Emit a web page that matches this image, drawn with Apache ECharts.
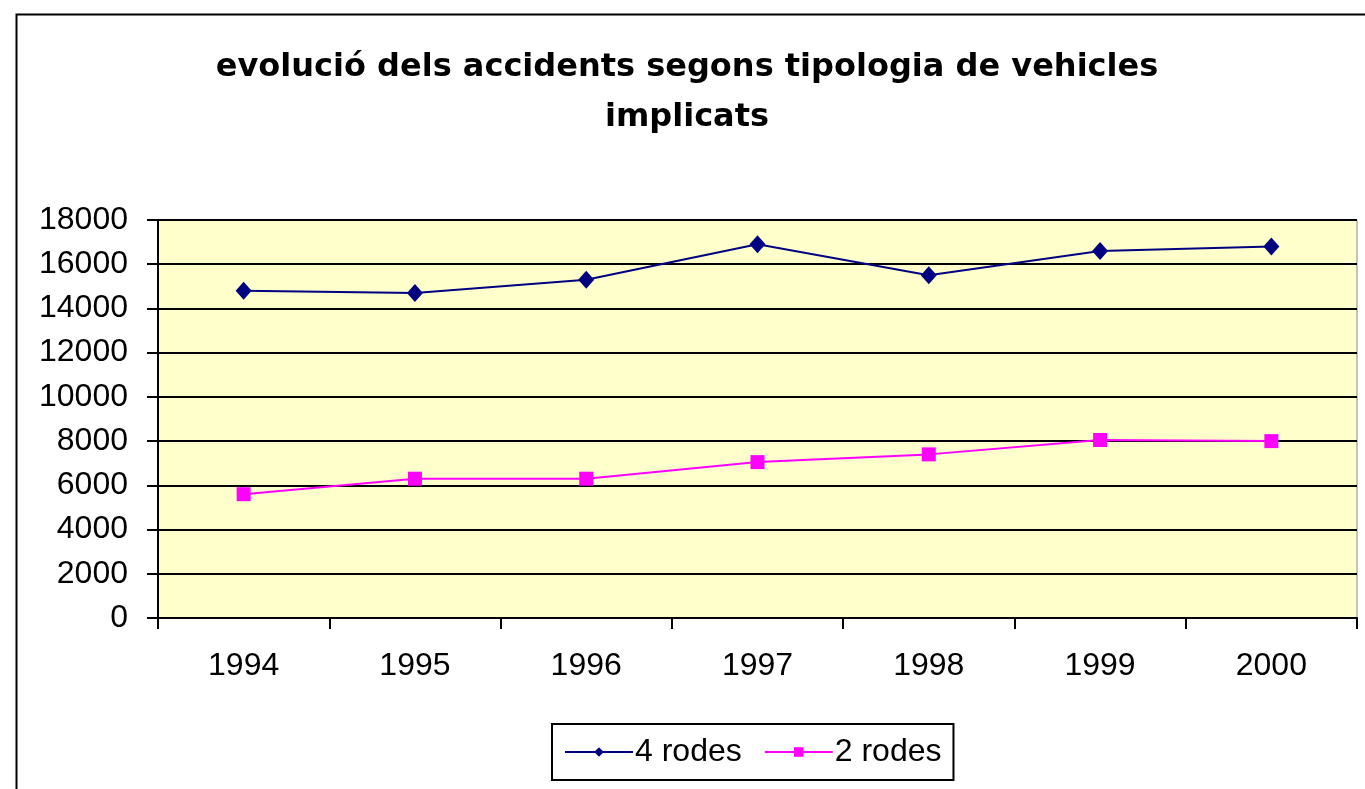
<!DOCTYPE html>
<html>
<head>
<meta charset="utf-8">
<script src="https://cdn.jsdelivr.net/npm/echarts@6/dist/echarts.min.js"></script>
<style>
  html, body { margin: 0; padding: 0; background: #fff; }
  #chart { width: 1365px; height: 789px; }
</style>
</head>
<body>
<div id="chart"></div>
<script>
const years = ['1994', '1995', '1996', '1997', '1998', '1999', '2000']
const quatreRodes = [14800, 14700, 15300, 16900, 15500, 16600, 16800]
const dosRodes = [5600, 6300, 6300, 7050, 7400, 8050, 8000]

const chart = echarts.init(document.getElementById('chart'))
chart.setOption({
  backgroundColor: '#fff',
  animation: false,
  title: {
    text: 'evolució dels accidents segons tipologia de vehicles\nimplicats',
    left: 682, top: 38,
    textAlign: 'center',
    textStyle: { fontFamily: 'DejaVu Sans', fontWeight: 'bold', fontSize: 32, lineHeight: 50, color: '#000' }
  },
  graphic: [{
    type: 'rect', left: 14, top: 12, z: -1,
    shape: { width: 1400, height: 820 },
    style: { fill: 'none', stroke: '#000', lineWidth: 2 }
  }],
  legend: {
    bottom: 9, left: 552,
    data: ['4 rodes', '2 rodes'],
    itemWidth: 68, itemHeight: 12, itemGap: 22,
    padding: [12, 12, 12, 12],
    borderColor: '#000', borderWidth: 2,
    textStyle: { fontFamily: 'Liberation Sans', fontSize: 32, color: '#000', padding: [0, 0, 0, -3] }
  },
  grid: {
    left: 158, top: 220, right: 8, bottom: 171,
    show: true, backgroundColor: '#FFFFCC', borderColor: '#8a8a8a', borderWidth: 1
  },
  xAxis: {
    type: 'category', data: years, boundaryGap: true,
    axisLine: { lineStyle: { color: '#000', width: 2 } },
    axisTick: { show: true, length: 11, lineStyle: { color: '#000', width: 2 } },
    axisLabel: { fontFamily: 'Liberation Sans', fontSize: 32, color: '#000', margin: 32 }
  },
  yAxis: {
    type: 'value', min: 0, max: 18000, interval: 2000,
    axisLine: { show: true, lineStyle: { color: '#000', width: 2 } },
    axisTick: { show: true, length: 11, lineStyle: { color: '#000', width: 2 } },
    axisLabel: { fontFamily: 'Liberation Sans', fontSize: 32, color: '#000', margin: 30, formatter: v => String(v) },
    splitLine: { lineStyle: { color: '#000', width: 2 } }
  },
  series: [
    {
      name: '4 rodes', type: 'line', data: quatreRodes,
      symbol: 'diamond', symbolSize: [16, 18],
      lineStyle: { color: '#000080', width: 2 },
      itemStyle: { color: '#000080' }
    },
    {
      name: '2 rodes', type: 'line', data: dosRodes,
      symbol: 'rect', symbolSize: 14,
      lineStyle: { color: '#FF00FF', width: 2 },
      itemStyle: { color: '#FF00FF' }
    }
  ]
})
</script>
</body>
</html>
